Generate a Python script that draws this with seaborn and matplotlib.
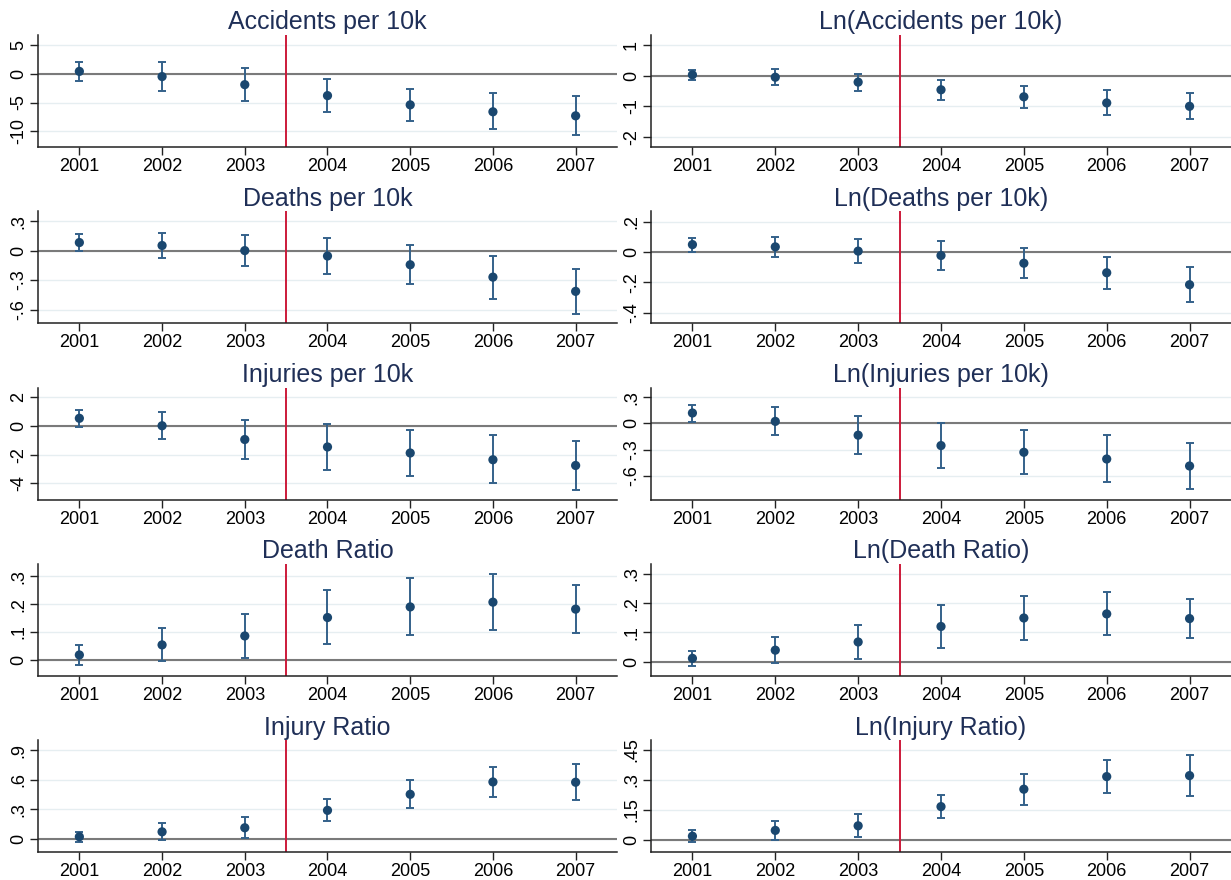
import matplotlib
matplotlib.use("Agg")
import matplotlib.pyplot as plt
import seaborn as sns
import numpy as np

# ---------------- data ----------------
years = [2001, 2002, 2003, 2004, 2005, 2006, 2007]

acc_coef = [0.4, -0.5, -1.9, -3.8, -5.4, -6.6, -7.3]
acc_lo   = [-1.3, -3.0, -4.7, -6.6, -8.2, -9.5, -10.6]
acc_hi   = [2.0, 2.0, 1.0, -1.0, -2.6, -3.4, -3.8]

lnacc_coef = [0.03, -0.05, -0.21, -0.46, -0.69, -0.89, -1.00]
lnacc_lo   = [-0.14, -0.32, -0.49, -0.79, -1.05, -1.30, -1.40]
lnacc_hi   = [0.19, 0.21, 0.07, -0.13, -0.33, -0.47, -0.58]

death_coef = [0.082, 0.052, 0.000, -0.055, -0.144, -0.270, -0.415]
death_lo   = [-0.003, -0.076, -0.158, -0.237, -0.344, -0.490, -0.643]
death_hi   = [0.165, 0.179, 0.155, 0.131, 0.055, -0.055, -0.190]

lndeath_coef = [0.050, 0.035, 0.007, -0.022, -0.073, -0.136, -0.215]
lndeath_lo   = [0.004, -0.031, -0.073, -0.116, -0.171, -0.246, -0.330]
lndeath_hi   = [0.094, 0.100, 0.088, 0.073, 0.029, -0.029, -0.099]

inj_coef = [0.54, 0.02, -0.94, -1.46, -1.88, -2.35, -2.75]
inj_lo   = [-0.07, -0.92, -2.28, -3.10, -3.46, -4.00, -4.47]
inj_hi   = [1.10, 1.00, 0.40, 0.16, -0.28, -0.66, -1.04]

lninj_coef = [0.119, 0.023, -0.135, -0.254, -0.331, -0.408, -0.488]
lninj_lo   = [0.019, -0.138, -0.354, -0.508, -0.585, -0.669, -0.754]
lninj_hi   = [0.215, 0.192, 0.085, 0.004, -0.073, -0.138, -0.227]

dratio_coef = [0.018, 0.054, 0.086, 0.152, 0.190, 0.207, 0.182]
dratio_lo   = [-0.018, -0.004, 0.007, 0.057, 0.088, 0.106, 0.095]
dratio_hi   = [0.054, 0.113, 0.163, 0.249, 0.295, 0.308, 0.270]

lndratio_coef = [0.011, 0.039, 0.067, 0.120, 0.149, 0.163, 0.147]
lndratio_lo   = [-0.015, -0.005, 0.008, 0.048, 0.074, 0.090, 0.080]
lndratio_hi   = [0.037, 0.084, 0.125, 0.192, 0.225, 0.239, 0.214]

iratio_coef = [0.024, 0.074, 0.115, 0.291, 0.453, 0.578, 0.575]
iratio_lo   = [-0.024, -0.010, 0.007, 0.183, 0.311, 0.430, 0.396]
iratio_hi   = [0.074, 0.162, 0.223, 0.406, 0.595, 0.727, 0.761]

lniratio_coef = [0.018, 0.047, 0.070, 0.166, 0.253, 0.316, 0.321]
lniratio_lo   = [-0.010, 0.000, 0.012, 0.107, 0.174, 0.236, 0.217]
lniratio_hi   = [0.047, 0.092, 0.127, 0.224, 0.329, 0.398, 0.426]

titles = ["Accidents per 10k", "Ln(Accidents per 10k)",
          "Deaths per 10k", "Ln(Deaths per 10k)",
          "Injuries per 10k", "Ln(Injuries per 10k)",
          "Death Ratio", "Ln(Death Ratio)",
          "Injury Ratio", "Ln(Injury Ratio)"]

ytick_vals = [[-10, -5, 0, 5], [-2, -1, 0, 1],
              [-0.6, -0.3, 0, 0.3], [-0.4, -0.2, 0, 0.2],
              [-4, -2, 0, 2], [-0.6, -0.3, 0, 0.3],
              [0, 0.1, 0.2, 0.3], [0, 0.1, 0.2, 0.3],
              [0, 0.3, 0.6, 0.9], [0, 0.15, 0.3, 0.45]]
ytick_labels = [["-10", "-5", "0", "5"], ["-2", "-1", "0", "1"],
                ["-.6", "-.3", "0", ".3"], ["-.4", "-.2", "0", ".2"],
                ["-4", "-2", "0", "2"], ["-.6", "-.3", "0", ".3"],
                ["0", ".1", ".2", ".3"], ["0", ".1", ".2", ".3"],
                ["0", ".3", ".6", ".9"], ["0", ".15", ".3", ".45"]]

series = [(acc_coef, acc_lo, acc_hi), (lnacc_coef, lnacc_lo, lnacc_hi),
          (death_coef, death_lo, death_hi), (lndeath_coef, lndeath_lo, lndeath_hi),
          (inj_coef, inj_lo, inj_hi), (lninj_coef, lninj_lo, lninj_hi),
          (dratio_coef, dratio_lo, dratio_hi), (lndratio_coef, lndratio_lo, lndratio_hi),
          (iratio_coef, iratio_lo, iratio_hi), (lniratio_coef, lniratio_lo, lniratio_hi)]

ylims = [(-12.7, 6.7), (-2.33, 1.33),
         (-0.74, 0.40), (-0.47, 0.27),
         (-5.13, 2.68), (-0.873, 0.41),
         (-0.057, 0.344), (-0.049, 0.334),
         (-0.132, 1.0), (-0.062, 0.498)]

# ---------------- styling ----------------
sns.set_theme(style="white")
plt.rcParams["font.family"] = ["Liberation Sans", "DejaVu Sans"]

MARKER = "#1a476f"
ERR = "#34618a"
TITLE = "#1f2f57"
RED = "#cc1a3a"
GRID = "#e6eef1"
ZERO = "#7a7a7a"

W, H = 1231, 880
fig = plt.figure(figsize=(W / 100, H / 100), dpi=100)
fig.patch.set_facecolor("white")

for i in range(10):
    r, c = divmod(i, 2)
    left_px = 38 if c == 0 else 651
    right_px = 617 if c == 0 else 1231
    top_px = 35 + 176.3 * r
    bot_px = 147 + 176.3 * r
    ax = fig.add_axes([left_px / W, 1 - bot_px / H,
                       (right_px - left_px) / W, (bot_px - top_px) / H])
    coef, lo, hi = (np.array(s, dtype=float) for s in series[i])

    ax.set_facecolor("white")
    ax.set_axisbelow(True)
    ax.yaxis.grid(True, color=GRID, lw=1.0)
    ax.xaxis.grid(False)

    ax.axhline(0, color=ZERO, lw=1.5, zorder=1)
    ax.axvline(2003.5, color=RED, lw=1.4, zorder=2)
    ax.errorbar(years, coef, yerr=[coef - lo, hi - coef], fmt="none",
                ecolor=ERR, elinewidth=1.4, capsize=3.2, capthick=1.4, zorder=3)
    sns.scatterplot(x=years, y=coef, ax=ax, color=MARKER, s=44,
                    edgecolor="none", linewidth=0, zorder=4, legend=False)

    ax.set_xlim(2000.5, 2007.5)
    ax.set_ylim(*ylims[i])
    ax.set_xticks(years)
    ax.set_xticklabels([str(y) for y in years])
    ax.set_yticks(ytick_vals[i])
    ax.set_yticklabels(ytick_labels[i], rotation=90, va="center")
    ax.set_xlabel("")
    ax.set_ylabel("")

    for side in ("top", "right"):
        ax.spines[side].set_visible(False)
    for side in ("left", "bottom"):
        ax.spines[side].set_color("#222222")
        ax.spines[side].set_linewidth(1.1)

    ax.tick_params(axis="both", which="major", bottom=True, left=True,
                   direction="out", length=6, width=1, color="#222222",
                   labelcolor="black", labelsize=13, pad=2)
    ax.set_title(titles[i], fontsize=18, color=TITLE, pad=4)

fig.savefig("out.png", dpi=100, facecolor="white")
